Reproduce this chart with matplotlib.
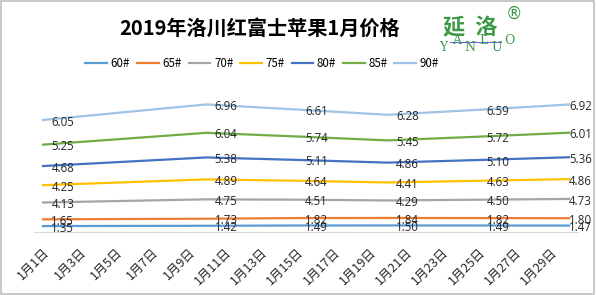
import numpy as np
import matplotlib
matplotlib.use("Agg")
import matplotlib.pyplot as plt
from matplotlib.patches import Rectangle

plt.rcParams['font.family'] = ['Noto Sans CJK SC', 'DejaVu Sans']

# 数据 (堆积折线图, 标签显示各规格自身价格)
days = [1, 10, 15, 20, 25, 30]  # 1月的日期
series = ['60#', '65#', '70#', '75#', '80#', '85#', '90#']
p60 = [1.35, 1.42, 1.49, 1.50, 1.49, 1.47]
p65 = [1.65, 1.73, 1.82, 1.84, 1.82, 1.80]
p70 = [4.13, 4.75, 4.51, 4.29, 4.50, 4.73]
p75 = [4.25, 4.89, 4.64, 4.41, 4.63, 4.86]
p80 = [4.68, 5.38, 5.11, 4.86, 5.10, 5.36]
p85 = [5.25, 6.04, 5.74, 5.45, 5.72, 6.01]
p90 = [6.05, 6.96, 6.61, 6.28, 6.59, 6.92]
colors = ['#5B9BD5', '#ED7D31', '#A5A5A5', '#FFC000', '#4472C4', '#70AD47', '#9DC3E6']
tick_days = list(range(1, 31, 2))
tick_labels = [f'1月{d}日' for d in tick_days]

values = np.array([p60, p65, p70, p75, p80, p85, p90])
stacked = np.cumsum(values, axis=0)
x = np.array(days) - 1

fig = plt.figure(figsize=(5.96, 2.95), dpi=100)
ax = fig.add_axes([0.057, 0.215, 0.913, 0.484])

for i, name in enumerate(series):
    ax.plot(x, stacked[i], color=colors[i], lw=1.6, label=name)
    for j, (xi, yi, v) in enumerate(zip(x, stacked[i], values[i])):
        # Excel 把最右侧的标签挤回图表区内
        dx = 0 if j == len(x) - 1 else 6
        ax.annotate(f'{v:.2f}', (xi, yi), xytext=(dx, -1.5), textcoords='offset points',
                    ha='left', va='center', fontsize=8.3, color='#262626',
                    family=['Open Sans', 'DejaVu Sans'])

ax.set_xlim(-0.5, 29.5)
ax.set_ylim(0, 35)
ax.set_yticks([])
ax.set_xticks(np.array(tick_days) - 1)
ax.set_xticklabels(tick_labels, rotation=45, ha='right', va='top',
                   rotation_mode='anchor', fontsize=9, color='#262626')
ax.tick_params(axis='x', length=0, pad=10)
for s in ['top', 'right', 'left']:
    ax.spines[s].set_visible(False)
ax.spines['bottom'].set_color('#D9D9D9')

fig.legend(loc='center', bbox_to_anchor=(0.44, 0.786), ncol=7, frameon=False,
           fontsize=8.3, handlelength=1.9, handletextpad=0.3, columnspacing=0.6)

fig.text(0.436, 0.905, '2019年洛川红富士苹果1月价格', ha='center', va='center',
         fontsize=14.5, fontweight='bold', color='#000000')

# 延洛 标志
fig.text(0.789, 0.905, '延  洛', ha='center', va='center', fontsize=16,
         fontweight='bold', color='#3C9A46')
logo = 'YANLUO'
for k, ch in enumerate(logo):
    dy = 0.022 if k % 2 else 0.0
    fig.text(0.743 + k * 0.0225, 0.84 + dy, ch, ha='center', va='center',
             fontsize=9, color='#3C9A46', family=['DejaVu Serif'])
fig.add_artist(plt.Line2D([0.755, 0.84], [0.858, 0.858], color='#6A6AE0', lw=0.8))
fig.text(0.862, 0.955, '®', ha='center', va='center', fontsize=12,
         color='#3C9A46', family=['DejaVu Sans'])

fig.add_artist(Rectangle((0.002, 0.004), 0.994, 0.992, transform=fig.transFigure,
                         fill=False, edgecolor='#BFBFBF', lw=1.2))

fig.savefig('out.png', dpi=100)
